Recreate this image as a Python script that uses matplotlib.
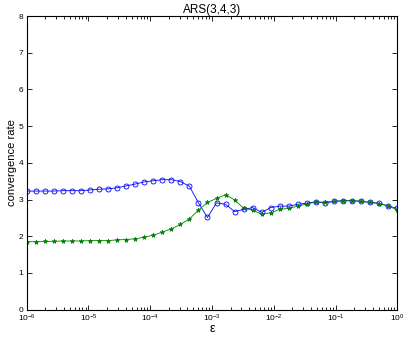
import numpy as np
from matplotlib import pyplot as plt
from matplotlib.ticker import LogLocator, LogFormatterMathtext, NullFormatter

plt.rcParams['font.family'] = ['Liberation Sans', 'DejaVu Sans']
plt.rcParams['mathtext.default'] = 'regular'

# epsilon grid: 42 points evenly spaced in log10 from 1e-6 to 1
eps = np.logspace(-6, 0, 42)

rate_blue = [3.23, 3.23, 3.23, 3.23, 3.24, 3.24, 3.24, 3.26, 3.28, 3.29,
             3.32, 3.37, 3.42, 3.48, 3.51, 3.54, 3.54, 3.49, 3.36, 2.91,
             2.51, 2.91, 2.87, 2.67, 2.73, 2.78, 2.65, 2.78, 2.82, 2.82,
             2.87, 2.90, 2.94, 2.90, 2.95, 2.97, 2.97, 2.95, 2.92, 2.90,
             2.82, 2.76]
rate_green = [1.85, 1.85, 1.86, 1.86, 1.87, 1.87, 1.87, 1.88, 1.88, 1.88,
              1.90, 1.91, 1.93, 1.97, 2.03, 2.11, 2.20, 2.32, 2.47, 2.71,
              2.92, 3.03, 3.13, 2.99, 2.76, 2.71, 2.60, 2.64, 2.73, 2.76,
              2.82, 2.88, 2.93, 2.93, 2.95, 2.96, 2.97, 2.95, 2.92, 2.89,
              2.82, 2.72]

fig = plt.figure(figsize=(4.07, 3.37), dpi=100)
ax = fig.add_axes([0.0656, 0.0813, 0.9105, 0.8712])

ax.semilogx(eps, rate_blue, '-o', color='#0000ff', lw=0.6, ms=3.6,
            mfc='none', mew=0.6)
ax.semilogx(eps, rate_green, '-*', color='#008000', lw=0.6, ms=3.4,
            mew=0.5)

ax.set_xlim(1e-6, 1)
ax.set_ylim(0, 8)
ax.set_yticks(range(0, 9))
ax.xaxis.set_major_locator(LogLocator(base=10, numticks=10))
ax.xaxis.set_major_formatter(LogFormatterMathtext())
ax.xaxis.set_minor_locator(LogLocator(base=10, subs=np.arange(2, 10), numticks=20))
ax.xaxis.set_minor_formatter(NullFormatter())

ax.tick_params(which='both', direction='in', top=True, right=True,
               labelsize=6, width=0.6)
ax.tick_params(which='major', length=3.5, pad=2.5)
ax.tick_params(which='minor', length=2)
for s in ax.spines.values():
    s.set_linewidth(0.8)

ax.set_title('ARS(3,4,3)', fontsize=8.5, pad=2)
ax.set_xlabel('ε', fontsize=9, labelpad=-1)
ax.set_ylabel('convergence rate', fontsize=8, labelpad=1)

plt.savefig('out.png', dpi=100)
